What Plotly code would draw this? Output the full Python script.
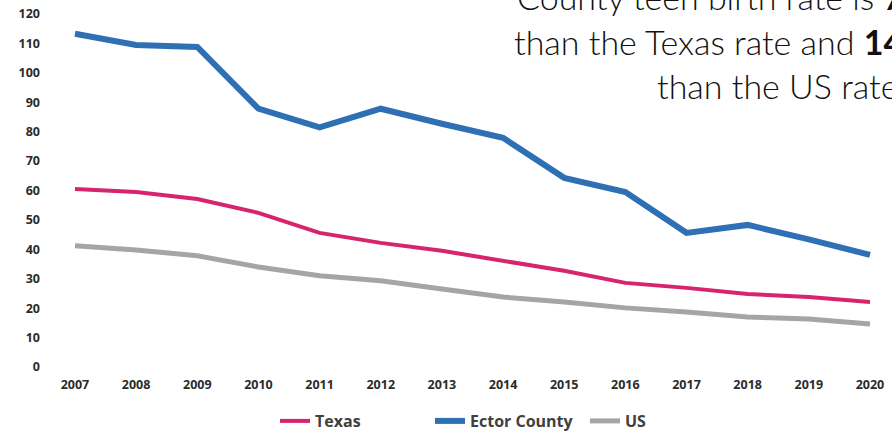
import plotly.graph_objects as go

years = [2007, 2008, 2009, 2010, 2011, 2012, 2013, 2014, 2015, 2016, 2017, 2018, 2019, 2020]
texas = [60.5, 59.5, 57.1, 52.4, 45.6, 42.2, 39.5, 36.0, 32.7, 28.6, 26.9, 24.8, 23.8, 22.1]
ector = [113.3, 109.5, 108.8, 87.8, 81.5, 87.8, 82.7, 77.9, 64.3, 59.5, 45.6, 48.3, 43.4, 38.1]
us = [41.2, 39.8, 37.8, 34.0, 31.0, 29.3, 26.5, 23.8, 22.1, 20.1, 18.7, 17.0, 16.3, 14.6]
y_ticks = [0, 10, 20, 30, 40, 50, 60, 70, 80, 90, 100, 110, 120]

W, H = 892, 434
ML, MR, MT, MB = 45, 0, 5, 59

fig = go.Figure()
fig.add_trace(go.Scatter(x=years, y=texas, name="Texas", mode="lines",
                         line=dict(color="#D6246E", width=4)))
fig.add_trace(go.Scatter(x=years, y=ector, name="Ector County", mode="lines",
                         line=dict(color="#2E70B3", width=6)))
fig.add_trace(go.Scatter(x=years, y=us, name="US", mode="lines",
                         line=dict(color="#A5A5A5", width=5)))

pw = W - ML - MR
ph = H - MT - MB


def px(xp):
    return (xp - ML) / pw


def py(yp):
    return 1 - (yp - MT) / ph


ann_font = dict(family="Lato, 'Open Sans', sans-serif", size=34, color="#111111", weight=300)
lines = [
    (515, -4, "County teen birth rate is <b>7</b>"),
    (512, 41, "than the Texas rate and <b>14</b>"),
    (655, 85, "than the US rate"),
]
annotations = []
for x0, yc, txt in lines:
    annotations.append(dict(text=txt, x=px(x0), y=py(yc), xref="paper", yref="paper",
                            xanchor="left", yanchor="middle", showarrow=False,
                            font=ann_font))

tick_font = dict(family="'Open Sans', sans-serif", size=12.5, color="#2b2b2b")
fig.update_layout(
    width=W, height=H,
    margin=dict(l=ML, r=MR, t=MT, b=MB, autoexpand=False),
    paper_bgcolor="white", plot_bgcolor="white",
    showlegend=True,
    legend=dict(orientation="h", xref="container", yref="container",
                x=275 / W, xanchor="left", y=1 - 421 / H, yanchor="middle",
                entrywidth=110,
                font=dict(family="'Open Sans', sans-serif", size=16, color="#404040",
                          weight="bold"),
                traceorder="normal"),
    xaxis=dict(range=[2006.51, 2020.36], tickmode="array", tickvals=years,
               ticktext=[f"<b>{y}</b>" for y in years], showgrid=False, zeroline=False,
               showline=False, ticks="", tickfont=tick_font, automargin=False),
    yaxis=dict(range=[-2.72, 123.06], tickmode="array", tickvals=y_ticks,
               ticktext=[f"<b>{v}</b>" for v in y_ticks], showgrid=False, zeroline=False,
               showline=False, ticks="", tickfont=tick_font, automargin=False,
               ticklabelstandoff=4),
    annotations=annotations,
)

fig.write_html("out.html", config={"displayModeBar": False},
               post_script="document.body.style.margin='0';document.body.style.overflow='hidden';")
